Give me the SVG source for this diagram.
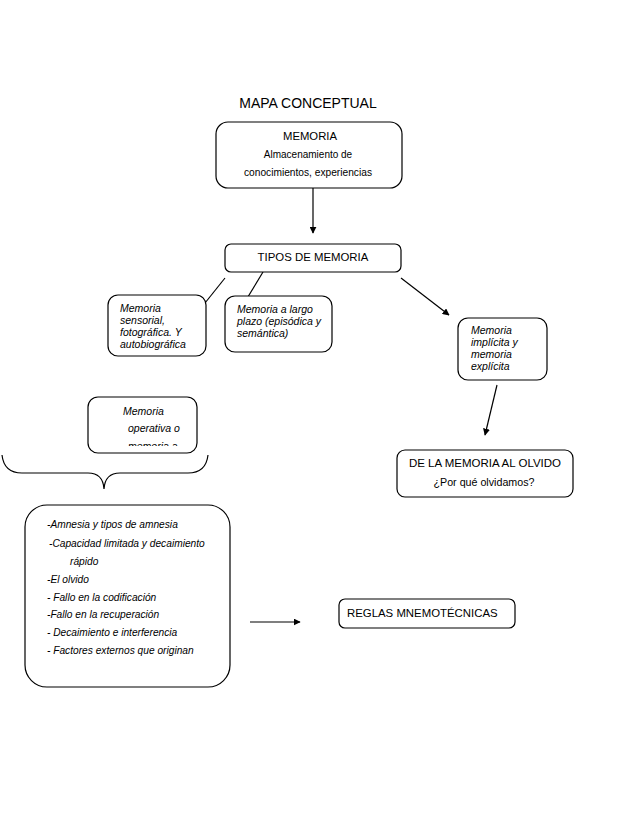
<svg xmlns="http://www.w3.org/2000/svg" width="638" height="826" viewBox="0 0 638 826">
<style>
.box{fill:#fff;stroke:#000;stroke-width:1.2}
.t{font-family:"Liberation Sans",Arial,sans-serif;fill:#000}
.i{font-family:"Liberation Sans",Arial,sans-serif;font-style:italic;fill:#000;font-size:10.5px}
.l{font-size:10.2px}
.ln{stroke:#000;stroke-width:1.2;fill:none}
</style>
<defs>
<marker id="ah" viewBox="0 0 10 10" refX="9" refY="5" markerWidth="7" markerHeight="7" orient="auto" markerUnits="userSpaceOnUse">
<path d="M0,0 L10,5 L0,10 z" fill="#000"/>
</marker>
<clipPath id="c1"><rect x="108" y="295" width="98" height="55"/></clipPath>
<clipPath id="c2"><rect x="88" y="397" width="109" height="49"/></clipPath>
</defs>
<rect width="638" height="826" fill="#fff"/>
<text class="t" x="308" y="108" font-size="14" text-anchor="middle">MAPA CONCEPTUAL</text>
<g id="connectors">
<line class="ln" x1="313" y1="188" x2="313" y2="233" marker-end="url(#ah)"/>
<line class="ln" x1="225" y1="278" x2="205" y2="303"/>
<line class="ln" x1="263" y1="272" x2="243" y2="305"/>
<line class="ln" x1="401" y1="278" x2="449" y2="315" marker-end="url(#ah)"/>
<line class="ln" x1="497" y1="385" x2="485" y2="435" marker-end="url(#ah)"/>
<path class="ln" d="M2,455 Q4,473 22,473 L88,473 Q103,473 104,489 Q105,473 120,473 L188,473 Q206,473 208,455"/>
<line class="ln" x1="250" y1="622" x2="300" y2="622" marker-end="url(#ah)"/>
</g>
<g id="memoria">
<rect class="box" x="216" y="122" width="186" height="66" rx="12"/>
<text class="t" x="310" y="140" font-size="11.3" text-anchor="middle">MEMORIA</text>
<text class="t" x="308" y="158" font-size="10" text-anchor="middle">Almacenamiento de</text>
<text class="t" x="308" y="176" font-size="10.2" text-anchor="middle">conocimientos, experiencias</text>
</g>
<g id="tipos">
<rect class="box" x="225" y="244" width="176" height="28" rx="6"/>
<text class="t" x="313" y="261" font-size="11.4" text-anchor="middle">TIPOS DE MEMORIA</text>
</g>
<g id="sensorial">
<rect class="box" x="108" y="295" width="98" height="61" rx="10"/>
<g clip-path="url(#c1)">
<text class="i" x="120" y="312">Memoria</text>
<text class="i" x="120" y="324">sensorial,</text>
<text class="i" x="120" y="336">fotográfica. Y</text>
<text class="i" x="120" y="348">autobiográfica</text>
</g>
</g>
<g id="largo">
<rect class="box" x="225" y="296" width="107" height="56" rx="10"/>
<text class="i" x="237" y="313">Memoria a largo</text>
<text class="i" x="237" y="325">plazo (episódica y</text>
<text class="i" x="237" y="337">semántica)</text>
</g>
<g id="implicita">
<rect class="box" x="458" y="318" width="89" height="62" rx="10"/>
<text class="i" x="471" y="334">Memoria</text>
<text class="i" x="471" y="346">implícita y</text>
<text class="i" x="471" y="358">memoria</text>
<text class="i" x="471" y="370">explícita</text>
</g>
<g id="operativa">
<rect class="box" x="88" y="397" width="109" height="56" rx="10"/>
<g clip-path="url(#c2)">
<text class="i" x="123" y="415">Memoria</text>
<text class="i" x="128" y="432">operativa o</text>
<text class="i" x="128" y="450">memoria a</text>
</g>
</g>
<g id="olvido">
<rect class="box" x="397" y="450" width="176" height="47" rx="8"/>
<text class="t" x="485" y="467" font-size="11.5" text-anchor="middle">DE LA MEMORIA AL OLVIDO</text>
<text class="t" x="484" y="486" font-size="10.7" text-anchor="middle">¿Por qué olvidamos?</text>
</g>
<g id="lista">
<rect class="box" x="25" y="505" width="205" height="182" rx="22"/>
<text class="i l" x="47" y="528">-Amnesia y tipos de amnesia</text>
<text class="i l" x="49" y="547">-Capacidad limitada y decaimiento</text>
<text class="i l" x="70" y="565">rápido</text>
<text class="i l" x="47" y="583">-El olvido</text>
<text class="i l" x="47" y="601">- Fallo en la codificación</text>
<text class="i l" x="47" y="618">-Fallo en la recuperación</text>
<text class="i l" x="47" y="636">- Decaimiento e interferencia</text>
<text class="i l" x="47" y="654">- Factores externos que originan</text>
</g>
<g id="reglas">
<rect class="box" x="339" y="599" width="176" height="29" rx="6"/>
<text class="t" x="347" y="617" font-size="11.4">REGLAS MNEMOTÉCNICAS</text>
</g>
</svg>
